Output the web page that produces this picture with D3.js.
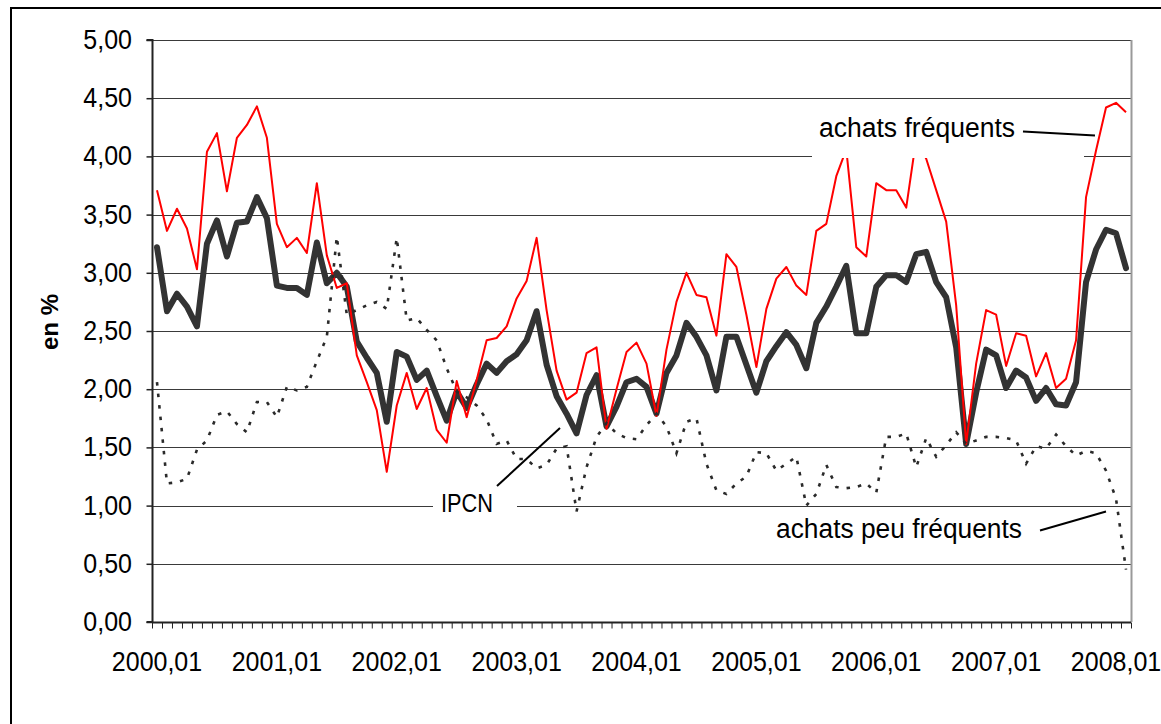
<!DOCTYPE html>
<html><head><meta charset="utf-8">
<script src="https://cdn.jsdelivr.net/npm/d3@7"></script>
<style>html,body{margin:0;padding:0;background:#fff;} svg{display:block;}</style>
</head><body>
<svg id="chart" width="1161" height="724"></svg>
<script>
// ---- categories (monthly, 2000,01 .. 2008,02) ----
const categories = [];
for (let yr = 2000; yr <= 2008; yr++) for (let m = 1; m <= 12; m++) {
  if (categories.length < 98) categories.push(yr + "," + String(m).padStart(2, "0"));
}
const xTickLabels = ["2000,01","2001,01","2002,01","2003,01","2004,01","2005,01","2006,01","2007,01","2008,01"];
const yTicks = [0,0.5,1,1.5,2,2.5,3,3.5,4,4.5,5];
const yTitle = "en %";
const seriesNames = ["IPCN","achats fréquents","achats peu fréquents"];

// IPCN
const ipcn = [3.22,2.67,2.82,2.71,2.54,3.25,3.45,3.14,3.43,3.44,3.65,3.47,
  2.89,2.87,2.87,2.81,3.26,2.91,3.00,2.88,2.41,2.27,2.14,1.72,
  2.32,2.28,2.08,2.16,1.94,1.73,1.98,1.84,2.04,2.22,2.14,2.24,
  2.30,2.42,2.67,2.21,1.94,1.79,1.62,1.95,2.12,1.68,1.85,2.06,
  2.09,2.02,1.79,2.14,2.29,2.57,2.45,2.29,1.99,2.45,2.45,2.21,
  1.97,2.24,2.37,2.49,2.38,2.18,2.57,2.71,2.88,3.06,2.48,2.48,
  2.88,2.98,2.98,2.92,3.16,3.18,2.92,2.79,2.36,1.53,1.97,2.34,
  2.29,2.01,2.16,2.10,1.90,2.01,1.87,1.86,2.06,2.92,3.20,3.37,
  3.34,3.04];
// achats fréquents
const frequents = [3.71,3.36,3.55,3.38,3.03,4.04,4.20,3.70,4.16,4.27,4.43,4.16,
  3.42,3.22,3.30,3.17,3.77,3.15,2.87,2.91,2.29,2.06,1.82,1.29,
  1.86,2.14,1.83,2.01,1.65,1.54,2.07,1.76,2.08,2.42,2.44,2.54,
  2.78,2.93,3.30,2.68,2.16,1.91,1.97,2.31,2.36,1.66,2.00,2.32,
  2.40,2.22,1.77,2.34,2.75,3.00,2.81,2.79,2.46,3.16,3.05,2.64,
  2.19,2.69,2.95,3.05,2.89,2.81,3.36,3.42,3.83,4.06,3.22,3.14,
  3.77,3.71,3.71,3.56,4.15,3.98,3.71,3.44,2.72,1.53,2.22,2.68,
  2.64,2.20,2.48,2.46,2.11,2.31,2.01,2.09,2.42,3.65,4.05,4.42,
  4.46,4.38];
// achats peu fréquents
const peuFrequents = [2.06,1.19,1.20,1.23,1.48,1.56,1.78,1.81,1.70,1.63,1.89,1.89,
  1.76,2.02,1.99,2.02,2.24,2.45,3.31,2.64,2.68,2.72,2.75,2.69,
  3.30,2.59,2.61,2.51,2.42,2.18,1.98,1.93,1.86,1.74,1.53,1.56,
  1.40,1.40,1.32,1.35,1.49,1.51,0.95,1.33,1.59,1.71,1.62,1.58,
  1.57,1.69,1.79,1.68,1.45,1.72,1.75,1.36,1.13,1.10,1.19,1.25,
  1.46,1.45,1.30,1.36,1.42,1.00,1.10,1.35,1.16,1.15,1.16,1.19,
  1.11,1.59,1.59,1.62,1.33,1.58,1.42,1.52,1.63,1.53,1.56,1.59,
  1.59,1.58,1.56,1.36,1.51,1.49,1.61,1.51,1.43,1.47,1.45,1.30,
  1.06,0.45];

const FONT = "'Liberation Sans', Arial, sans-serif";
const svg = d3.select("#chart");
const L = 152, R = 1131, T = 40, B = 622;

const xB = d3.scaleBand().domain(categories).range([L, R]).paddingInner(0).paddingOuter(0);
const cx = c => xB(c) + xB.bandwidth() / 2;
const xLin = d3.scaleLinear().domain([0, categories.length]).range([L, R]);
const y = d3.scaleLinear().domain([0, 5]).range([B, T]);

// outer frame
svg.append("rect").attr("x", 11).attr("y", 8).attr("width", 1180).attr("height", 740)
  .attr("fill", "none").attr("stroke", "#000").attr("stroke-width", 2);

// gridlines
svg.append("g").selectAll("line").data(yTicks.filter(d => d > 0)).join("line")
  .attr("x1", L).attr("x2", R)
  .attr("y1", d => Math.round(y(d)) + 0.5).attr("y2", d => Math.round(y(d)) + 0.5)
  .attr("stroke", "#3a3a3a").attr("stroke-width", 1.2);

// right plot border
svg.append("line").attr("x1", R + 0.5).attr("x2", R + 0.5).attr("y1", T).attr("y2", B)
  .attr("stroke", "#999").attr("stroke-width", 2);

// y axis
const yAxis = svg.append("g").attr("transform", `translate(${L + 0.5},0)`)
  .call(d3.axisLeft(y).tickValues(yTicks).tickSize(6).tickFormat(""));
yAxis.selectAll("path,line").attr("stroke", "#222").attr("stroke-width", 1.5);
yAxis.select(".domain").attr("d", `M-6,${T}H0V${B}H-6`).attr("stroke-width", 2);

// x axis
const xAxis = svg.append("g").attr("transform", `translate(0,${B + 0.5})`)
  .call(d3.axisBottom(xLin).tickValues(d3.range(0, categories.length + 1)).tickSize(6).tickFormat(""));
xAxis.selectAll("path,line").attr("stroke", "#222").attr("stroke-width", 1);
xAxis.select(".domain").attr("d", `M${L},0H${R}`).attr("stroke-width", 2);

function stext(g, x, yy, str, opts = {}) {
  const t = g.append("text")
    .attr("transform", `translate(${x},${yy}) scale(1,${opts.sy || 1.08})`)
    .attr("font-family", FONT).attr("font-size", opts.size || 25)
    .attr("fill", "#000").attr("text-anchor", opts.anchor || "middle")
    .text(str);
  if (opts.len) t.attr("textLength", opts.len).attr("lengthAdjust", "spacingAndGlyphs");
  if (opts.weight) t.attr("font-weight", opts.weight);
  return t;
}

// y tick labels
const yl = svg.append("g");
yTicks.forEach(v => stext(yl, 132, y(v) + 9, v.toFixed(2).replace(".", ","), {anchor: "end"}));

// x tick labels
const xl = svg.append("g");
xTickLabels.forEach(lab => {
  if (categories.includes(lab)) stext(xl, cx(lab), 671, lab, {});
});

// y title
svg.append("text").attr("transform", "translate(58,322) rotate(-90)")
  .attr("font-family", FONT).attr("font-size", 24).attr("font-weight", "bold")
  .attr("text-anchor", "middle").text(yTitle);

// series
const line = d3.line().x((d, i) => cx(categories[i])).y(d => y(d));
svg.append("path").datum(ipcn).attr("d", line).attr("fill", "none")
  .attr("stroke", "#333333").attr("stroke-width", 6)
  .attr("stroke-linejoin", "round").attr("stroke-linecap", "round");
svg.append("path").datum(frequents).attr("d", line).attr("fill", "none")
  .attr("stroke", "#ff0000").attr("stroke-width", 2).attr("stroke-linejoin", "round");
svg.append("path").datum(peuFrequents).attr("d", line).attr("fill", "none")
  .attr("stroke", "#2a2a2a").attr("stroke-width", 2.6).attr("stroke-dasharray", "3.5,8");

// annotation labels with white boxes
const ann = svg.append("g");
ann.append("rect").attr("x", 812).attr("y", 101).attr("width", 272).attr("height", 57).attr("fill", "#fff");
ann.append("rect").attr("x", 433).attr("y", 489).attr("width", 84).attr("height", 32).attr("fill", "#fff");
ann.append("rect").attr("x", 770).attr("y", 512).attr("width", 258).attr("height", 44).attr("fill", "#fff");

stext(ann, 819, 137, seriesNames[1], {anchor: "start", len: 196});
stext(ann, 467, 512, seriesNames[0], {len: 52, size: 24});
stext(ann, 1022, 538, seriesNames[2], {anchor: "end", len: 246});

const leaders = [[1023, 131.5, 1095, 135.5], [497, 486, 560, 428], [1040, 530.5, 1106, 511.5]];
ann.selectAll("line.leader").data(leaders).join("line").attr("class", "leader")
  .attr("x1", d => d[0]).attr("y1", d => d[1]).attr("x2", d => d[2]).attr("y2", d => d[3])
  .attr("stroke", "#000").attr("stroke-width", 2);
</script>
</body></html>
